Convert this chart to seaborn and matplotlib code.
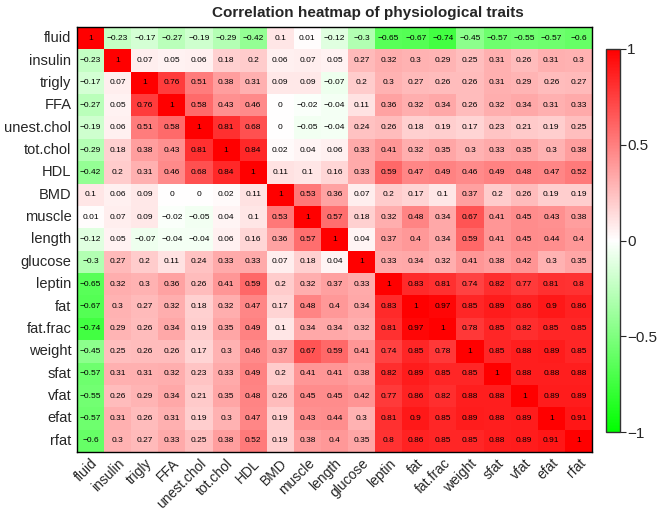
import numpy as np
import pandas as pd
import seaborn as sns
import matplotlib.pyplot as plt
from matplotlib.colors import LinearSegmentedColormap

# trait names, same order on both axes
traits = ['fluid', 'insulin', 'trigly', 'FFA', 'unest.chol', 'tot.chol', 'HDL', 'BMD',
          'muscle', 'length', 'glucose', 'leptin', 'fat', 'fat.frac', 'weight',
          'sfat', 'vfat', 'efat', 'rfat']

# correlation values, one row per trait
fluid = [1, -0.23, -0.17, -0.27, -0.19, -0.29, -0.42, 0.1, 0.01, -0.12, -0.3, -0.65, -0.67, -0.74, -0.45, -0.57, -0.55, -0.57, -0.6]
insulin = [-0.23, 1, 0.07, 0.05, 0.06, 0.18, 0.2, 0.06, 0.07, 0.05, 0.27, 0.32, 0.3, 0.29, 0.25, 0.31, 0.26, 0.31, 0.3]
trigly = [-0.17, 0.07, 1, 0.76, 0.51, 0.38, 0.31, 0.09, 0.09, -0.07, 0.2, 0.3, 0.27, 0.26, 0.26, 0.31, 0.29, 0.26, 0.27]
ffa = [-0.27, 0.05, 0.76, 1, 0.58, 0.43, 0.46, 0, -0.02, -0.04, 0.11, 0.36, 0.32, 0.34, 0.26, 0.32, 0.34, 0.31, 0.33]
unest_chol = [-0.19, 0.06, 0.51, 0.58, 1, 0.81, 0.68, 0, -0.05, -0.04, 0.24, 0.26, 0.18, 0.19, 0.17, 0.23, 0.21, 0.19, 0.25]
tot_chol = [-0.29, 0.18, 0.38, 0.43, 0.81, 1, 0.84, 0.02, 0.04, 0.06, 0.33, 0.41, 0.32, 0.35, 0.3, 0.33, 0.35, 0.3, 0.38]
hdl = [-0.42, 0.2, 0.31, 0.46, 0.68, 0.84, 1, 0.11, 0.1, 0.16, 0.33, 0.59, 0.47, 0.49, 0.46, 0.49, 0.48, 0.47, 0.52]
bmd = [0.1, 0.06, 0.09, 0, 0, 0.02, 0.11, 1, 0.53, 0.36, 0.07, 0.2, 0.17, 0.1, 0.37, 0.2, 0.26, 0.19, 0.19]
muscle = [0.01, 0.07, 0.09, -0.02, -0.05, 0.04, 0.1, 0.53, 1, 0.57, 0.18, 0.32, 0.48, 0.34, 0.67, 0.41, 0.45, 0.43, 0.38]
length = [-0.12, 0.05, -0.07, -0.04, -0.04, 0.06, 0.16, 0.36, 0.57, 1, 0.04, 0.37, 0.4, 0.34, 0.59, 0.41, 0.45, 0.44, 0.4]
glucose = [-0.3, 0.27, 0.2, 0.11, 0.24, 0.33, 0.33, 0.07, 0.18, 0.04, 1, 0.33, 0.34, 0.32, 0.41, 0.38, 0.42, 0.3, 0.35]
leptin = [-0.65, 0.32, 0.3, 0.36, 0.26, 0.41, 0.59, 0.2, 0.32, 0.37, 0.33, 1, 0.83, 0.81, 0.74, 0.82, 0.77, 0.81, 0.8]
fat = [-0.67, 0.3, 0.27, 0.32, 0.18, 0.32, 0.47, 0.17, 0.48, 0.4, 0.34, 0.83, 1, 0.97, 0.85, 0.89, 0.86, 0.9, 0.86]
fat_frac = [-0.74, 0.29, 0.26, 0.34, 0.19, 0.35, 0.49, 0.1, 0.34, 0.34, 0.32, 0.81, 0.97, 1, 0.78, 0.85, 0.82, 0.85, 0.85]
weight = [-0.45, 0.25, 0.26, 0.26, 0.17, 0.3, 0.46, 0.37, 0.67, 0.59, 0.41, 0.74, 0.85, 0.78, 1, 0.85, 0.88, 0.89, 0.85]
sfat = [-0.57, 0.31, 0.31, 0.32, 0.23, 0.33, 0.49, 0.2, 0.41, 0.41, 0.38, 0.82, 0.89, 0.85, 0.85, 1, 0.88, 0.88, 0.88]
vfat = [-0.55, 0.26, 0.29, 0.34, 0.21, 0.35, 0.48, 0.26, 0.45, 0.45, 0.42, 0.77, 0.86, 0.82, 0.88, 0.88, 1, 0.89, 0.89]
efat = [-0.57, 0.31, 0.26, 0.31, 0.19, 0.3, 0.47, 0.19, 0.43, 0.44, 0.3, 0.81, 0.9, 0.85, 0.89, 0.88, 0.89, 1, 0.91]
rfat = [-0.6, 0.3, 0.27, 0.33, 0.25, 0.38, 0.52, 0.19, 0.38, 0.4, 0.35, 0.8, 0.86, 0.85, 0.85, 0.88, 0.89, 0.91, 1]

cbar_ticks = [-1, -0.5, 0, 0.5, 1]

corr = pd.DataFrame([fluid, insulin, trigly, ffa, unest_chol, tot_chol, hdl, bmd, muscle,
                     length, glucose, leptin, fat, fat_frac, weight, sfat, vfat, efat, rfat],
                    index=traits, columns=traits)

# R-style labels with a real minus sign
labels = corr.map(lambda v: format(v, 'g').replace('-', '\u2212'))

sns.set_style('white')
plt.rcParams['font.family'] = ['Liberation Sans', 'DejaVu Sans']
plt.rcParams['axes.unicode_minus'] = True

green_red = LinearSegmentedColormap.from_list('gwr', ['#00ff00', '#ffffff', '#ff0000'])

fig = plt.figure(figsize=(6.64, 5.13), dpi=100)
W, H = 664, 513
ax = fig.add_axes([77 / W, (H - 452) / H, (592 - 77) / W, (452 - 27) / H])
cax = fig.add_axes([606 / W, (H - 432) / H, 14 / W, (432 - 49) / H])

sns.heatmap(corr, ax=ax, cbar_ax=cax, cmap=green_red, vmin=-1, vmax=1,
            annot=labels, fmt='', annot_kws={'color': 'black', 'fontsize': 6},
            cbar_kws={'ticks': cbar_ticks})

for side in ax.spines.values():
    side.set_visible(True)
    side.set_color('black')
    side.set_linewidth(1)

ax.set_xticklabels(traits, rotation=45, ha='right', rotation_mode='anchor', fontsize=10)
ax.set_yticklabels(traits, rotation=0, fontsize=10.5)
ax.tick_params(axis='both', length=2, color='#555555')
ax.tick_params(axis='x', pad=1)
ax.tick_params(axis='y', pad=2)
ax.set_xlabel('')
ax.set_ylabel('')
# title sits centred over heatmap plus legend, as in the reference
fig.text(368 / W, 1 - 13 / H, 'Correlation heatmap of physiological traits',
         ha='center', va='center', fontsize=11, fontweight='bold')

cbar = ax.collections[0].colorbar
cbar.set_ticklabels(['\u22121', '\u22120.5', '0', '0.5', '1'])
cax.tick_params(length=4, labelsize=11, pad=1)
cbar.outline.set_visible(True)
cbar.outline.set_edgecolor('#333333')
cbar.outline.set_linewidth(1)

fig.savefig('out.png', dpi=100)
